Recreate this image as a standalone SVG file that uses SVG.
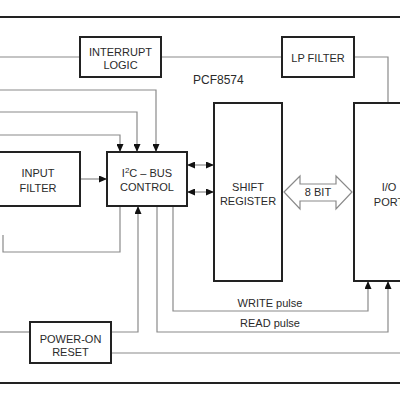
<svg xmlns="http://www.w3.org/2000/svg" width="400" height="400" viewBox="0 0 400 400">
<defs>
<marker id="ah" viewBox="0 0 8 7" refX="8" refY="3.5" markerWidth="8" markerHeight="7" markerUnits="userSpaceOnUse" orient="auto-start-reverse">
<path d="M0,0 L8,3.5 L0,7 z" fill="#111"/>
</marker>
<style>
.box{fill:#fff;stroke:#222;stroke-width:2}
.c{fill:none;stroke:#8a8a8a;stroke-width:1.2}
.b{fill:none;stroke:#222;stroke-width:2}
text{font-family:"Liberation Sans",Arial,sans-serif;font-size:11px;fill:#2a2a2a;text-anchor:middle}
</style>
</defs>
<rect width="400" height="400" fill="#fff"/>
<g id="frame">
<line class="b" x1="0" y1="17" x2="400" y2="17"/>
<line class="b" x1="0" y1="383" x2="400" y2="383"/>
</g>
<g id="connectors">
<path class="c" d="M0,57 H80"/>
<path class="c" d="M161,57 H282"/>
<path class="c" d="M354,57 H388 V103"/>
<path class="c" d="M0,90 H156 V152" marker-end="url(#ah)"/>
<path class="c" d="M0,112 H137 V152" marker-end="url(#ah)"/>
<path class="c" d="M0,135 H120 V152" marker-end="url(#ah)"/>
<path class="c" d="M80,179 H107" marker-end="url(#ah)"/>
<path class="c" d="M187,165 H214" marker-start="url(#ah)" marker-end="url(#ah)"/>
<path class="c" d="M187,192 H214" marker-start="url(#ah)" marker-end="url(#ah)"/>
<path class="c" d="M120,206 V252 H3 V235"/>
<path class="c" d="M111,332 H138 V206" marker-end="url(#ah)"/>
<path class="c" d="M0,332 H30"/>
<path class="c" d="M111,353 H400"/>
<path class="c" d="M157,206 V332 H388 V281" marker-end="url(#ah)"/>
<path class="c" d="M173,206 V311 H368 V281" marker-end="url(#ah)"/>
<polygon points="284,192 300,176 300,184 336,184 336,176 352,192 336,209 336,201 300,201 300,209" fill="#fff" stroke="#8a8a8a" stroke-width="1.2"/>
<text x="318" y="196">8 BIT</text>
<text x="270" y="307">WRITE pulse</text>
<text x="270" y="327">READ pulse</text>
</g>
<g id="title">
<text x="193" y="84" style="text-anchor:start;font-size:12px">PCF8574</text>
</g>
<g id="interrupt-logic">
<rect class="box" x="80" y="37" width="81" height="40"/>
<text x="120.5" y="56">INTERRUPT</text>
<text x="120.5" y="69">LOGIC</text>
</g>
<g id="lp-filter">
<rect class="box" x="282" y="37" width="72" height="40"/>
<text x="318" y="62">LP FILTER</text>
</g>
<g id="input-filter">
<rect class="box" x="-10" y="152" width="90" height="54"/>
<text x="38" y="177">INPUT</text>
<text x="38" y="192">FILTER</text>
</g>
<g id="i2c-bus-control">
<rect class="box" x="107" y="152" width="80" height="54"/>
<text x="147" y="177">I<tspan dy="-4" font-size="8">2</tspan><tspan dy="4">C – BUS</tspan></text>
<text x="147" y="191">CONTROL</text>
</g>
<g id="shift-register">
<rect class="box" x="214" y="103" width="68" height="178"/>
<text x="248" y="191">SHIFT</text>
<text x="248" y="205">REGISTER</text>
</g>
<g id="io-port">
<rect class="box" x="354" y="103" width="70" height="178"/>
<text x="389" y="191">I/O</text>
<text x="389" y="206">PORT</text>
</g>
<g id="power-on-reset">
<rect class="box" x="30" y="322" width="81" height="41"/>
<text x="70.5" y="343">POWER-ON</text>
<text x="70.5" y="356">RESET</text>
</g>
</svg>
